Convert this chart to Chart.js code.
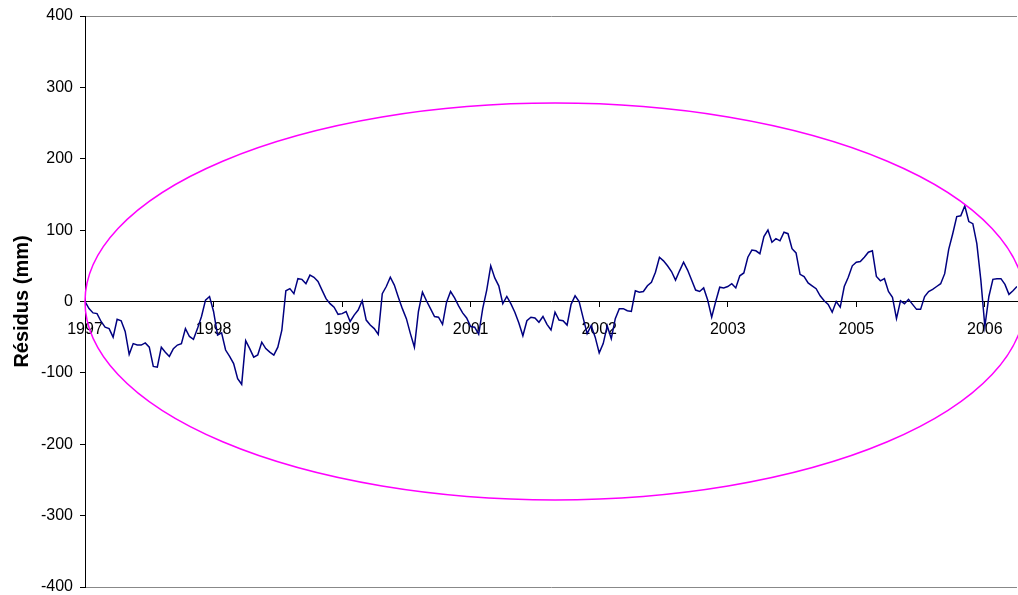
<!DOCTYPE html>
<html>
<head>
<meta charset="utf-8">
<script src="https://cdn.jsdelivr.net/npm/chart.js@4/dist/chart.umd.min.js"></script>
<style>
  html, body { margin: 0; padding: 0; background: #fff; }
  #wrap { width: 1018px; height: 595px; }
</style>
</head>
<body>
<div id="wrap"><canvas id="resChart"></canvas></div>
<script>
// Résidus (mm), one value every ~4 px of the original plot, split by stretch
const res1 = [0, -10, -16, -17, -28, -36, -38, -50, -25, -27, -42, -74, -59, -61, -61, -58, -64, -91, -92, -64,
  -71, -77, -66, -61, -59, -38, -49, -53, -38, -21, 2, 7, -14, -47, -44, -68, -77, -87, -108];
const res2 = [-116, -55, -66, -78, -75, -57, -66, -71, -75, -64, -40, 15, 18, 11, 32, 31, 25, 37, 34, 28,
  16, 4, -3, -8, -18, -17, -14, -28, -19, -12, 1, -26, -33, -38, -46, 11, 21, 34, 23, 6];
const res3 = [-10, -24, -45, -64, -14, 13, 1, -10, -21, -22, -32, -1, 14, 5, -6, -16, -23, -35, -36, -46,
  -10, 16, 50, 33, 22, -3, 7, -3, -15, -30, -48, -27, -22, -23, -29, -21, -32, -40, -15, -26];
const res4 = [-27, -33, -4, 8, 0, -23, -45, -34, -50, -72, -59, -34, -52, -24, -10, -10, -13, -14, 15, 13,
  14, 22, 27, 41, 62, 57, 50, 42, 30, 43, 55, 44, 30, 16, 14, 19, 2, -22, 0, 20];
const res5 = [19, 21, 25, 19, 36, 40, 62, 72, 71, 67, 91, 100, 83, 88, 85, 97, 95, 74, 68, 38,
  35, 26, 22, 18, 8, 1, -4, -15, 0, -8, 21, 34, 50, 55, 56, 62, 69, 71, 35, 29];
const res6 = [32, 14, 6, -24, 1, -3, 3, -4, -11, -11, 7, 14, 17, 21, 25, 39, 73, 95, 119, 120,
  134, 112, 109, 81, 30, -35, 7, 31, 32, 32, 24, 10, 15, 21];

// x axis labels (position = sample index)
const yearTicks = [0, 32, 64, 96, 128, 160, 192, 224];
const yearLabels = ['1997', '1998', '1999', '2001', '2002', '2003', '2005', '2006'];

// magenta ellipse (index units / mm)
const ellCenterX = 117, ellCenterY = 0;
const ellRadiusX = 117, ellRadiusY = 278;

const residus = [].concat(res1, res2, res3, res4, res5, res6);

const ellipsePlugin = {
  id: 'ellipse',
  afterDatasetsDraw(chart) {
    const { ctx, scales: { x, y } } = chart;
    const cx = x.getPixelForValue(ellCenterX);
    const cy = y.getPixelForValue(ellCenterY);
    const rx = x.getPixelForValue(ellCenterX + ellRadiusX) - cx;
    const ry = cy - y.getPixelForValue(ellCenterY + ellRadiusY);
    ctx.save();
    ctx.strokeStyle = '#ff00ff';
    ctx.lineWidth = 1.5;
    ctx.beginPath();
    ctx.ellipse(cx, cy, rx, ry, 0, 0, Math.PI * 2);
    ctx.stroke();
    ctx.restore();
  }
};

new Chart(document.getElementById('resChart'), {
  type: 'line',
  data: {
    datasets: [{
      data: residus.map((v, i) => ({ x: i, y: v })),
      borderColor: '#000080',
      borderWidth: 1.5,
      pointRadius: 0,
      tension: 0,
      fill: false
    }]
  },
  options: {
    responsive: true,
    maintainAspectRatio: false,
    animation: false,
    layout: { padding: { top: 16, right: 1, bottom: 8, left: 0 } },
    plugins: { legend: { display: false }, tooltip: { enabled: false } },
    scales: {
      x: {
        type: 'linear',
        position: { y: 0 },
        min: 0,
        max: residus.length - 1,
        afterBuildTicks: s => { s.ticks = yearTicks.map(v => ({ value: v })); },
        ticks: {
          autoSkip: false,
          maxRotation: 0,
          padding: 13,
          color: '#000',
          font: { family: 'Arial, "Liberation Sans", sans-serif', size: 16 },
          callback: v => yearLabels[yearTicks.indexOf(v)] || ''
        },
        grid: { drawOnChartArea: false, tickLength: 5, color: '#000' },
        border: { color: '#000', width: 1 }
      },
      y: {
        min: -400,
        max: 400,
        afterFit: s => { s.width = 85; },
        ticks: {
          stepSize: 100,
          padding: 7,
          color: '#000',
          // tiny lineHeight so the labels don't add vertical padding to the plot
          font: { family: 'Arial, "Liberation Sans", sans-serif', size: 16, lineHeight: 0.1 }
        },
        grid: {
          color: c => (Math.abs(c.tick.value) === 400 ? '#888' : 'rgba(0,0,0,0)'),
          tickColor: '#000',
          tickLength: 5
        },
        border: { color: '#000', width: 1 },
        title: {
          display: true,
          text: 'Résidus (mm)',
          color: '#000',
          padding: { top: 10, bottom: 0 },
          font: { family: 'Arial, "Liberation Sans", sans-serif', size: 20, weight: 'bold' }
        }
      }
    }
  },
  plugins: [ellipsePlugin]
});
</script>
</body>
</html>
